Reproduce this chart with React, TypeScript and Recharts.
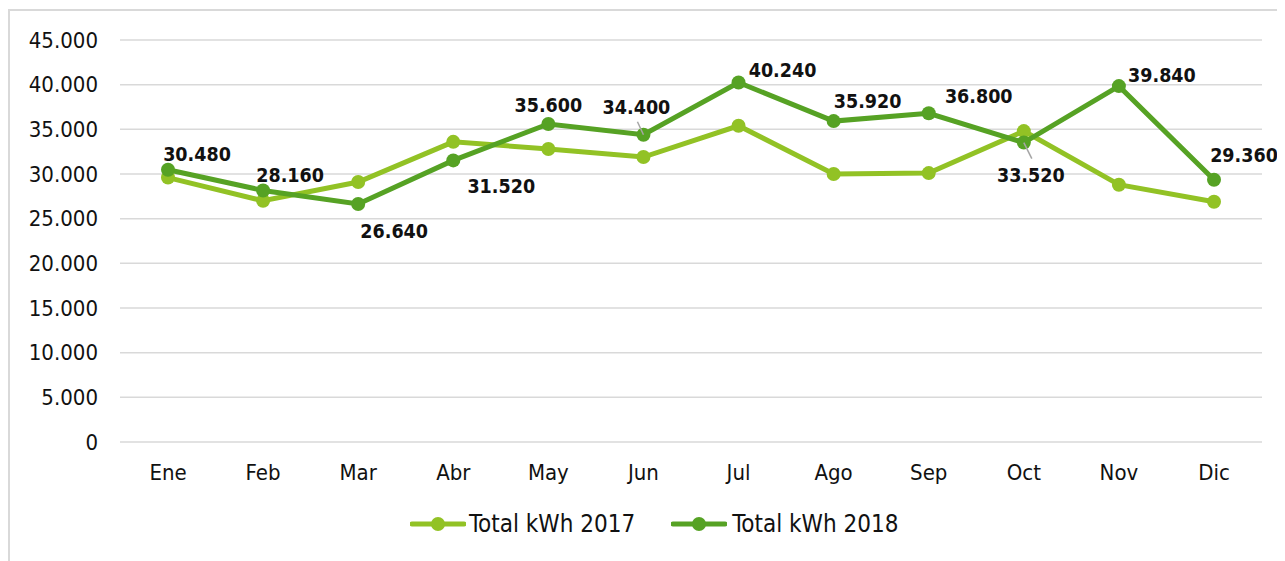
import React from 'react';
import {
  LineChart,
  Line,
  XAxis,
  YAxis,
  CartesianGrid,
  Legend,
  LabelList,
} from 'recharts';

/* ---------- Data ---------- */
const months = ['Ene', 'Feb', 'Mar', 'Abr', 'May', 'Jun', 'Jul', 'Ago', 'Sep', 'Oct', 'Nov', 'Dic'];
const kwh2017 = [29600, 27000, 29100, 33600, 32800, 31900, 35400, 30000, 30100, 34800, 28800, 26900];
const kwh2018 = [30480, 28160, 26640, 31520, 35600, 34400, 40240, 35920, 36800, 33520, 39840, 29360];
const yTicks = [0, 5000, 10000, 15000, 20000, 25000, 30000, 35000, 40000, 45000];

const data = months.map((m, i) => ({ month: m, y2017: kwh2017[i], y2018: kwh2018[i] }));

/* ---------- Styles ---------- */
const COLORS = {
  y2017: '#92c225',
  y2018: '#56a224',
  grid: '#d9d9d9',
  text: '#111111',
  leader: '#a6a6a6',
};
const FONT = '"DejaVu Sans Condensed", "DejaVu Sans", sans-serif';

// label offset from its point (label centre), plus optional leader line end
const LABEL_OFFSETS = [
  { dx: 29, dy: -15 },
  { dx: 27, dy: -15 },
  { dx: 36, dy: 27 },
  { dx: 48, dy: 26 },
  { dx: 0, dy: -18 },
  { dx: -7, dy: -27, leader: [-6, -13] },
  { dx: 44, dy: -12 },
  { dx: 34, dy: -20 },
  { dx: 50, dy: -17 },
  { dx: 7, dy: 33, leader: [8, 16] },
  { dx: 43, dy: -11 },
  { dx: 30, dy: -24 },
];

const fmt = (v: number) => String(v).replace(/\B(?=(\d{3})+(?!\d))/g, '.');

const renderLabel = (props: any) => {
  const { x, y, value, index } = props;
  const o = LABEL_OFFSETS[index] || { dx: 0, dy: -15 };
  return (
    <g>
      {o.leader && (
        <line
          x1={x}
          y1={y}
          x2={x + o.leader[0]}
          y2={y + o.leader[1]}
          stroke={COLORS.leader}
          strokeWidth={1.5}
        />
      )}
      <text
        x={x + o.dx}
        y={y + o.dy}
        textAnchor="middle"
        dominantBaseline="central"
        fontFamily={FONT}
        fontWeight="bold"
        fontSize={19.5}
        fill={COLORS.text}
      >
        {fmt(value)}
      </text>
    </g>
  );
};

const LegendIcon = ({ color }: { color: string }) => (
  <svg width={56} height={20} style={{ display: 'block' }}>
    <line x1={2} y1={10} x2={54} y2={10} stroke={color} strokeWidth={5} strokeLinecap="round" />
    <circle cx={28} cy={10} r={7} fill={color} />
  </svg>
);

const renderLegend = () => (
  <div
    style={{
      display: 'flex',
      alignItems: 'center',
      height: 30,
      paddingLeft: 402,
      fontFamily: FONT,
      fontSize: 24,
      color: COLORS.text,
    }}
  >
    <LegendIcon color={COLORS.y2017} />
    <span style={{ marginLeft: 3, marginRight: 36 }}>Total kWh 2017</span>
    <LegendIcon color={COLORS.y2018} />
    <span style={{ marginLeft: 5 }}>Total kWh 2018</span>
  </div>
);

export default function App() {
  return (
    <div style={{ position: 'relative', width: 1277, height: 553 }}>
      <style>{'html, body { overflow: hidden; }'}</style>
      <div
        style={{
          position: 'absolute',
          left: 0,
          top: 1,
          width: 1277,
          height: 552,
          borderLeft: `2px solid ${COLORS.grid}`,
          borderTop: `2px solid ${COLORS.grid}`,
          boxSizing: 'border-box',
        }}
      />
      <div style={{ position: 'absolute', left: 0, top: 0 }}>
        <LineChart
          width={1277}
          height={553}
          data={data}
          margin={{ top: 32, right: 23, bottom: 22, left: 0 }}
          style={{ overflow: 'visible' }}
        >
          <CartesianGrid vertical={false} stroke={COLORS.grid} strokeWidth={1.5} />
          <XAxis
            dataKey="month"
            height={67}
            padding={{ left: 48, right: 48 }}
            axisLine={false}
            tickLine={false}
            tickMargin={16}
            tick={{ fontFamily: FONT, fontSize: 22, fill: COLORS.text }}
          />
          <YAxis
            width={112}
            domain={[0, 45000]}
            ticks={yTicks}
            interval={0}
            axisLine={false}
            tickLine={false}
            tickMargin={16}
            tickFormatter={fmt}
            tick={{ fontFamily: FONT, fontSize: 22, fill: COLORS.text }}
          />
          <Legend verticalAlign="bottom" height={30} content={renderLegend} wrapperStyle={{ left: 0, width: 1277 }} />
          <Line
            dataKey="y2017"
            name="Total kWh 2017"
            stroke={COLORS.y2017}
            strokeWidth={5}
            dot={{ r: 7, fill: COLORS.y2017, stroke: 'none' }}
            activeDot={false}
            isAnimationActive={false}
          />
          <Line
            dataKey="y2018"
            name="Total kWh 2018"
            stroke={COLORS.y2018}
            strokeWidth={5}
            dot={{ r: 7, fill: COLORS.y2018, stroke: 'none' }}
            activeDot={false}
            isAnimationActive={false}
          >
            <LabelList dataKey="y2018" content={renderLabel} />
          </Line>
        </LineChart>
      </div>
    </div>
  );
}
